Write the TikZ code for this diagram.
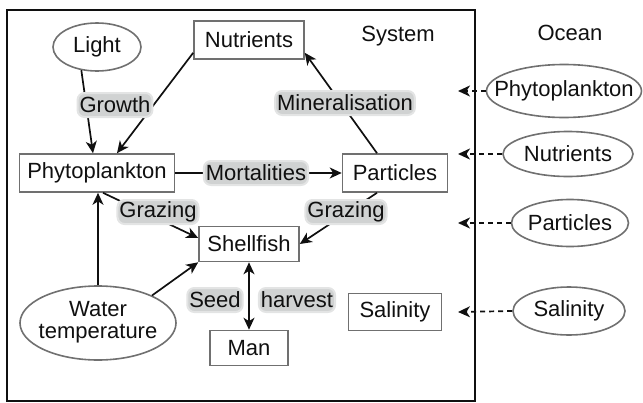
\documentclass[tikz,border=0pt]{standalone}
\usepackage{fontspec}
\setmainfont{Liberation Sans}
\usetikzlibrary{arrows.meta,shapes.geometric}
\definecolor{bordergray}{HTML}{707070}
\definecolor{labelgray}{HTML}{D0D2D2}
\definecolor{inkc}{HTML}{101010}
\newcommand{\zw}[1]{\makebox[0pt]{#1}}
\begin{document}
\begin{tikzpicture}[x=1pt,y=-1pt,
  every node/.style={font=\fontsize{22}{23.5}\selectfont, text=inkc, inner sep=0pt},
  box/.style={draw=bordergray, line width=1.6pt, fill=white, rectangle},
  oval/.style={draw=bordergray, line width=1.6pt, fill=white, ellipse},
  lab/.style={fill=labelgray, draw=labelgray!60!white, line width=2pt, rounded corners=7pt, inner xsep=2pt, minimum height=24pt},
  arr/.style={draw=inkc, line width=1.7pt, -{Stealth[length=12pt,width=11pt,inset=3.5pt]}},
  darr/.style={draw=inkc, line width=1.7pt, dash pattern=on 5pt off 4pt, -{Stealth[length=12pt,width=11pt,inset=3.5pt]}}]
\useasboundingbox (0,0) rectangle (643,402);
% frame
\draw[line width=2.4pt, draw=inkc] (7,10) rectangle (475,401);
\node (system) at (398,36) {System};
\node (ocean) at (570,33) {Ocean};
% nodes
\node[oval, minimum width=88pt, minimum height=48pt] (light) at (97,47) {\zw{Light}};
\node[box, minimum width=110pt, minimum height=38pt] (nutr) at (249,40) {Nutrients};
\node[box, minimum width=155pt, minimum height=38pt] (phyto) at (97,173) {Phytoplankton};
\node[box, minimum width=105pt, minimum height=38pt] (part) at (395,173) {Particles};
\node[box, minimum width=100pt, minimum height=35pt] (shell) at (249,244) {Shellfish};
\node[box, minimum width=78pt, minimum height=35pt] (man) at (249,348) {Man};
\node[box, minimum width=93pt, minimum height=37pt] (sal) at (395,312) {Salinity};
\node[oval, minimum width=156pt, minimum height=74pt] (water) at (98,323) {\zw{\begin{tabular}{@{}c@{}}Water\\[-1.5pt]temperature\end{tabular}}};
\node[oval, minimum width=155pt, minimum height=53pt] (ophyto) at (564,91) {\zw{Phytoplankton}};
\node[oval, minimum width=130pt, minimum height=45pt] (onutr) at (568,154) {\zw{Nutrients}};
\node[oval, minimum width=117pt, minimum height=47pt] (opart) at (570,223) {\zw{Particles}};
\node[oval, minimum width=112pt, minimum height=48pt] (osal) at (569,311) {\zw{\raisebox{4pt}{Salinity}}};
% arrow ends
\coordinate (t1) at (458,91);
\coordinate (t2) at (458,154);
\coordinate (t3) at (458,223);
\coordinate (t4) at (458,312);
% connectors
\draw[arr] (light.236) -- ([xshift=-4pt]phyto.north);
\draw[arr] ([yshift=7pt]nutr.south west) -- ([xshift=20pt]phyto.north);
\draw[arr] ([xshift=-18pt]part.north) -- ([yshift=7pt]nutr.south east);
\draw[arr] (phyto.east) -- (part.west);
\draw[arr] ([xshift=6pt]phyto.south) -- ([yshift=6pt]shell.west);
\draw[arr] ([xshift=-18pt]part.south) -- (shell.east);
\draw[arr] (water.north) -- (water.north |- phyto.south);
\draw[arr] (water.27) -- (shell.south west);
\draw[arr, {Stealth[length=12pt,width=11pt,inset=3.5pt]}-{Stealth[length=12pt,width=11pt,inset=3.5pt]}] (shell.south) -- (man.north);
\draw[darr] (ophyto.west) -- (t1);
\draw[darr] (onutr.west) -- (t2);
\draw[darr] (opart.west) -- (t3);
\draw[darr] (osal.west) -- (t4);
% labels
\node[lab] (lgrowth) at (115,105) {Growth};
\node[lab] (lmin) at (345,103) {Mineralisation};
\node[lab] (lmort) at (256,173) {Mortalities};
\node[lab] (lgraz1) at (158,212) {Grazing};
\node[lab] (lgraz2) at (346,212) {Grazing};
\node[lab] (lseed) at (215,300) {Seed};
\node[lab] (lharv) at (297,300) {harvest};
\end{tikzpicture}
\end{document}
